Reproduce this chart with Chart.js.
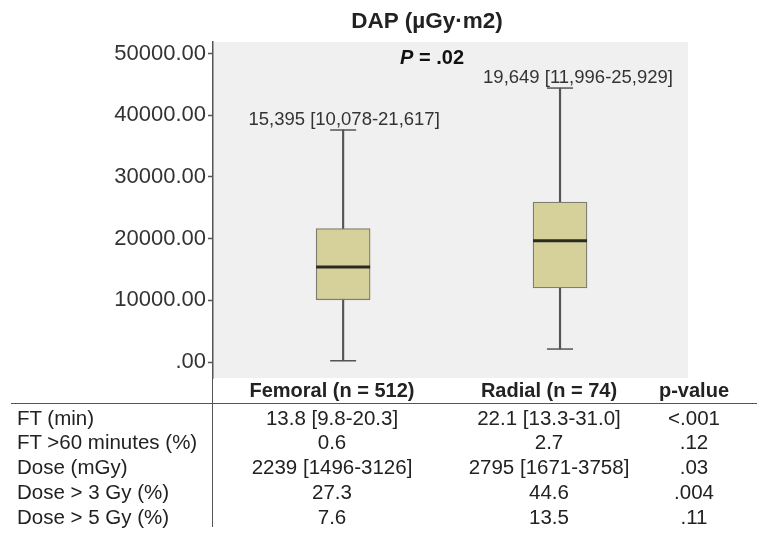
<!DOCTYPE html>
<html>
<head>
<meta charset="utf-8">
<script src="https://cdn.jsdelivr.net/npm/chart.js@4.4.1/dist/chart.umd.min.js"></script>
<style>
  html, body { margin: 0; padding: 0; background: #fff; }
  #wrap { position: relative; width: 757px; height: 534px; font-family: "Liberation Sans", Arial, sans-serif; color: #222; }
  #wrap canvas { position: absolute; left: 0; top: 0; }
  .title { position: absolute; left: 427px; top: 21px; transform: translate(-50%, -50%); font-weight: bold; font-size: 22.5px; white-space: nowrap; }
  .cell { position: absolute; transform: translateY(-50%); font-size: 20.5px; white-space: nowrap; }
  .c { transform: translate(-50%, -50%); }
  .hdr { font-weight: bold; font-size: 20px; }
  .hline { position: absolute; left: 11px; top: 403px; width: 746px; height: 0; border-top: 1.5px solid #555; }
  .vline { position: absolute; left: 212px; top: 378px; width: 0; height: 149px; border-left: 1.5px solid #555; }
</style>
</head>
<body>
<div id="wrap">
  <canvas id="c" width="757" height="534"></canvas>
  <div class="title">DAP (µGy·m2)</div>
  <div id="table"></div>
  <div class="hline"></div>
  <div class="vline"></div>
</div>
<script>
// box plot values (DAP, µGy·m2)
const groups = ["Femoral", "Radial"];
const whiskerLow = [200, 2100];
const q1 = [10078, 11996];
const median = [15395, 19649];
const q3 = [21617, 25929];
const whiskerHigh = [37600, 44400];
const boxLabels = ["15,395 [10,078-21,617]", "19,649 [11,996-25,929]"];
const yTicks = [0, 10000, 20000, 30000, 40000, 50000];
const pText = ".02";

// table below the chart
const tableHeader = ["Femoral (n = 512)", "Radial (n = 74)", "p-value"];
const rowLabels = ["FT (min)", "FT >60 minutes (%)", "Dose (mGy)", "Dose > 3 Gy (%)", "Dose > 5 Gy (%)"];
const femoralCol = ["13.8 [9.8-20.3]", "0.6", "2239 [1496-3126]", "27.3", "7.6"];
const radialCol = ["22.1 [13.3-31.0]", "2.7", "2795 [1671-3758]", "44.6", "13.5"];
const pCol = ["<.001", ".12", ".03", ".004", ".11"];

const FONT = '"Liberation Sans", Arial, sans-serif';
const BOX_FILL = "#d6d09b";
const LINE = "#555";

// build table
const table = document.getElementById("table");
const colX = [332, 549, 694];
function addCell(text, x, y, cls) {
  const d = document.createElement("div");
  d.className = "cell " + cls;
  d.style.left = x + "px";
  d.style.top = y + "px";
  d.textContent = text;
  table.appendChild(d);
}
tableHeader.forEach((t, i) => addCell(t, colX[i], 390, "c hdr"));
const rowY = [418, 442, 467, 492, 517];
rowLabels.forEach((t, r) => {
  addCell(t, 17, rowY[r], "");
  addCell(femoralCol[r], colX[0], rowY[r], "c");
  addCell(radialCol[r], colX[1], rowY[r], "c");
  addCell(pCol[r], colX[2], rowY[r], "c");
});

const xy = (arr) => arr.map((v, i) => ({ x: i, y: v }));
const xyRange = (a, b) => a.map((v, i) => ({ x: i, y: [v, b[i]] }));

const plotBg = {
  id: "plotBg",
  beforeDraw(chart) {
    const { ctx, chartArea: a } = chart;
    ctx.save();
    ctx.fillStyle = "#f0f0f0";
    ctx.fillRect(a.left, a.top, a.right - a.left, a.bottom - a.top);
    ctx.restore();
  },
};

const boxText = {
  id: "boxText",
  afterDatasetsDraw(chart) {
    const { ctx } = chart;
    const xs = chart.scales.x, ys = chart.scales.y;
    const shift = [1, 18];
    ctx.save();
    ctx.fillStyle = "#333";
    ctx.font = "18.5px " + FONT;
    ctx.textAlign = "center";
    ctx.textBaseline = "alphabetic";
    groups.forEach((g, i) => {
      ctx.fillText(boxLabels[i], xs.getPixelForValue(i) + shift[i], ys.getPixelForValue(whiskerHigh[i]) - 5);
    });
    // P value
    const px = xs.getPixelForValue(0.41), py = ys.getPixelForValue(49200);
    ctx.textBaseline = "middle";
    ctx.textAlign = "left";
    ctx.fillStyle = "#111";
    ctx.font = "italic bold 20px " + FONT;
    const pw = ctx.measureText("P").width;
    ctx.font = "bold 20px " + FONT;
    const rest = " = " + pText;
    const rw = ctx.measureText(rest).width;
    const start = px - (pw + rw) / 2;
    ctx.font = "italic bold 20px " + FONT;
    ctx.fillText("P", start, py);
    ctx.font = "bold 20px " + FONT;
    ctx.fillText(rest, start + pw, py);
    ctx.restore();
  },
};

new Chart(document.getElementById("c"), {
  type: "bar",
  data: {
    datasets: [
      {
        label: "whisker",
        data: xyRange(whiskerLow, whiskerHigh),
        backgroundColor: LINE,
        borderWidth: 0,
        barThickness: 1.5,
        grouped: false,
        order: 3,
      },
      {
        label: "box",
        data: xyRange(q1, q3),
        backgroundColor: BOX_FILL,
        borderColor: "#7d7d70",
        borderWidth: 1.3,
        borderSkipped: false,
        barThickness: 54,
        grouped: false,
        order: 2,
      },
      {
        type: "line",
        label: "median",
        data: xy(median),
        showLine: false,
        pointStyle: "line",
        pointRadius: 27,
        pointBorderWidth: 2.8,
        pointBorderColor: "#2a2a22",
        order: 1,
      },
      {
        type: "line",
        label: "low cap",
        data: xy(whiskerLow),
        showLine: false,
        pointStyle: "line",
        pointRadius: 13,
        pointBorderWidth: 1.5,
        pointBorderColor: LINE,
        order: 1,
      },
      {
        type: "line",
        label: "high cap",
        data: xy(whiskerHigh),
        showLine: false,
        pointStyle: "line",
        pointRadius: 13,
        pointBorderWidth: 1.5,
        pointBorderColor: LINE,
        order: 1,
      },
    ],
  },
  options: {
    responsive: false,
    animation: false,
    events: [],
    layout: { padding: { left: 0, right: 69, top: 42, bottom: 156 } },
    plugins: { legend: { display: false }, tooltip: { enabled: false }, title: { display: false } },
    scales: {
      x: { type: "linear", min: -0.6, max: 1.59, offset: false, display: false },
      y: {
        min: -2593,
        max: 51864,
        afterFit(scale) { scale.width = 213; },
        afterBuildTicks(scale) { scale.ticks = yTicks.map((v) => ({ value: v })); },
        border: { display: true, color: LINE, width: 1.5 },
        grid: { drawOnChartArea: false, tickLength: 5, color: LINE, tickWidth: 1.5 },
        ticks: {
          padding: 2,
          color: "#333",
          font: { family: FONT, size: 22 },
          callback: (v) => (v === 0 ? ".00" : v.toFixed(2)),
        },
      },
    },
  },
  plugins: [plotBg, boxText],
});
</script>
</body>
</html>
